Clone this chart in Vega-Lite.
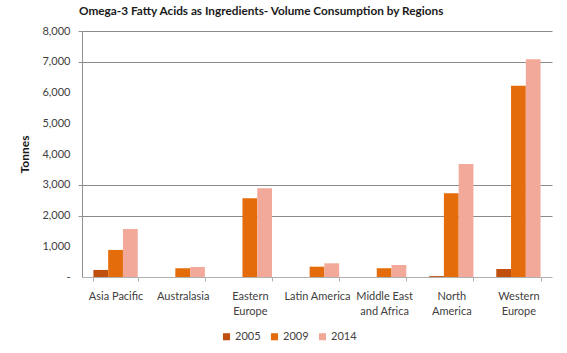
{
  "$schema": "https://vega.github.io/schema/vega-lite/v6.json",
  "width": 470,
  "height": 246,
  "autosize": {"type": "none"},
  "padding": {"left": 82, "top": 31, "right": 15, "bottom": 76},
  "background": "white",
  "title": {
    "text": "Omega-3 Fatty Acids as Ingredients- Volume Consumption by Regions",
    "anchor": "start",
    "frame": "group",
    "dx": -3,
    "offset": 7,
    "font": "Lato",
    "fontSize": 11.8,
    "fontWeight": "bold",
    "color": "#1a1a1a"
  },
  "config": {
    "view": {"stroke": null},
    "font": "Lato"
  },
  "data": {
    "values": [
      {"region": "Asia Pacific", "year": "2005", "tonnes": 230},
      {"region": "Asia Pacific", "year": "2009", "tonnes": 880},
      {"region": "Asia Pacific", "year": "2014", "tonnes": 1560},
      {"region": "Australasia", "year": "2005", "tonnes": 0},
      {"region": "Australasia", "year": "2009", "tonnes": 285},
      {"region": "Australasia", "year": "2014", "tonnes": 325},
      {"region": "Eastern|Europe", "year": "2005", "tonnes": 0},
      {"region": "Eastern|Europe", "year": "2009", "tonnes": 2560},
      {"region": "Eastern|Europe", "year": "2014", "tonnes": 2885},
      {"region": "Latin America", "year": "2005", "tonnes": 0},
      {"region": "Latin America", "year": "2009", "tonnes": 335},
      {"region": "Latin America", "year": "2014", "tonnes": 445},
      {"region": "Middle East|and Africa", "year": "2005", "tonnes": 0},
      {"region": "Middle East|and Africa", "year": "2009", "tonnes": 285},
      {"region": "Middle East|and Africa", "year": "2014", "tonnes": 390},
      {"region": "North|America", "year": "2005", "tonnes": 30},
      {"region": "North|America", "year": "2009", "tonnes": 2720},
      {"region": "North|America", "year": "2014", "tonnes": 3675},
      {"region": "Western|Europe", "year": "2005", "tonnes": 260},
      {"region": "Western|Europe", "year": "2009", "tonnes": 6220},
      {"region": "Western|Europe", "year": "2014", "tonnes": 7080}
    ]
  },
  "mark": {"type": "bar"},
  "encoding": {
    "x": {
      "field": "region",
      "type": "nominal",
      "sort": null,
      "scale": {"paddingInner": 0.34, "paddingOuter": 0.17},
      "axis": {
        "title": null,
        "labelAngle": 0,
        "labelExpr": "split(datum.label, '|')",
        "labelFont": "Lato",
        "labelFontSize": 11,
        "labelColor": "#404040",
        "labelPadding": 9,
        "labelLineHeight": 15,
        "labelBaseline": "top",
        "domainColor": "#b0b0b0",
        "tickColor": "#b0b0b0",
        "tickBand": "extent",
        "tickSize": 4,
        "grid": false
      }
    },
    "xOffset": {"field": "year", "type": "nominal"},
    "y": {
      "field": "tonnes",
      "type": "quantitative",
      "scale": {"domain": [0, 8000]},
      "axis": {
        "title": "Tonnes",
        "titleFont": "Lato",
        "titleFontSize": 12,
        "titleFontWeight": "bold",
        "titleColor": "#1a1a1a",
        "titlePadding": 10,
        "values": [0, 1000, 2000, 3000, 4000, 5000, 6000, 7000, 8000],
        "labelExpr": "datum.value == 0 ? '-' : format(datum.value, ',')",
        "labelFont": "Lato",
        "labelFontSize": 11,
        "labelColor": "#404040",
        "labelPadding": 8,
        "tickSize": 4,
        "tickColor": "#909090",
        "domainColor": "#909090",
        "grid": true,
        "gridColor": "#8a8a8a",
        "gridOpacity": {"condition": {"test": "datum.value == 2000 || datum.value == 3000 || datum.value == 7000 || datum.value == 8000", "value": 1}, "value": 0},
        "tickOpacity": {"condition": {"test": "datum.value == 2000 || datum.value == 3000 || datum.value == 7000 || datum.value == 8000", "value": 1}, "value": 0}
      }
    },
    "color": {
      "field": "year",
      "type": "nominal",
      "scale": {"domain": ["2005", "2009", "2014"], "range": ["#C0500F", "#E46C0A", "#F2A999"]},
      "legend": {
        "title": null,
        "orient": "none",
        "direction": "horizontal",
        "legendX": 139,
        "legendY": 300,
        "symbolType": "square",
        "symbolSize": 50,
        "symbolStrokeWidth": 0,
        "labelFont": "Lato",
        "labelFontSize": 11,
        "labelColor": "#404040",
        "labelOffset": 3,
        "columnPadding": 8
      }
    }
  }
}
